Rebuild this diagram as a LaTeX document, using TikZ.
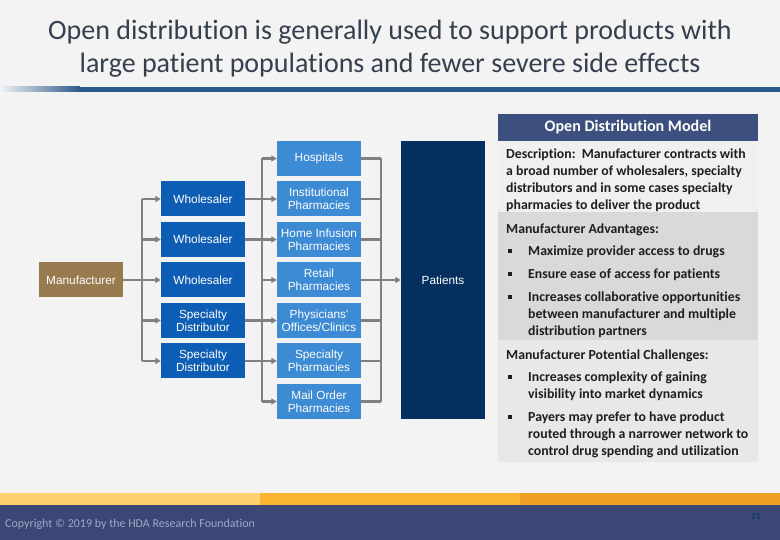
\documentclass[tikz,border=0pt]{standalone}
\usepackage{fontspec}
\setmainfont{Carlito}[Ligatures=NoCommon]
\newfontfamily\odmarial{Liberation Sans}
\usetikzlibrary{arrows.meta}
\definecolor{odmbg}{HTML}{F3F3F3}
\definecolor{odmtitle}{HTML}{353F4E}
\definecolor{odmbar}{HTML}{2B5A8C}
\definecolor{odmbrown}{HTML}{987A4F}
\definecolor{odmblueA}{HTML}{0E5DB5}
\definecolor{odmblueB}{HTML}{3D8BD4}
\definecolor{odmnavy}{HTML}{03305E}
\definecolor{odmgray}{HTML}{808080}
\definecolor{odmhead}{HTML}{3C4F7E}
\definecolor{odmink}{HTML}{1E1E1E}
\definecolor{odmfoot}{HTML}{3B4774}
\definecolor{odmfoottxt}{HTML}{A0A8C8}
\definecolor{odmbandA}{HTML}{FED36F}
\definecolor{odmbandB}{HTML}{FBB530}
\definecolor{odmbandC}{HTML}{F09F25}
\newcommand{\odmPaneA}{black!6}
\newcommand{\odmPaneB}{black!15}
\newcommand{\odmPaneC}{black!9}
\newcommand{\odmsq}{\rule{3.5pt}{3.5pt}}
\tikzset{
  odmbox/.style={minimum width=84pt, minimum height=35pt, inner sep=1pt,
                 align=center, text=white, font=\odmarial\fontsize{11.8}{12.9}\selectfont},
  odmman/.style={odmbox, fill=odmbrown},
  odmdist/.style={odmbox, fill=odmblueA},
  odmsite/.style={odmbox, fill=odmblueB},
  odmrel/.style={draw=odmgray, line width=2.3pt},
  odmarrow/.style={odmrel, -{Triangle[length=5.5pt,width=6pt]}},
  odmtxt/.style={anchor=north west, inner sep=0pt, align=left, text=odmink,
                 font=\bfseries\fontsize{13.8}{17}\selectfont},
  odmbul/.style={inner sep=0pt, text=odmink},
}

\begin{document}
\begin{tikzpicture}[x=1pt, y=-1pt]
  \useasboundingbox (0,0) rectangle (780,540);
  % background, title and bands
  \fill[odmbg] (0,0) rectangle (780,540);
  \node[font=\fontsize{28}{33}\selectfont, text=odmtitle, align=center] (title) at (390,49)
    {Open distribution is generally used to support products with\\
     large patient populations and fewer severe side effects};
  \shade[left color=odmbg, right color=odmbar] (0,87) rectangle (80,92);
  \fill[odmbar] (80,87) rectangle (780,92);
  \fill[odmfoot] (0,505) rectangle (780,540);
  \fill[odmbandA] (0,493) rectangle (260,505);
  \fill[odmbandB] (260,493) rectangle (520,505);
  \fill[odmbandC] (520,493) rectangle (780,505);
  \node[anchor=west, inner sep=0pt, text=odmfoottxt, font=\fontsize{12}{14}\selectfont] (copy) at (5,524)
    {Copyright \textcopyright{} 2019 by the HDA Research Foundation};
  \node[inner sep=0pt, text=odmnavy, font=\fontsize{9}{10}\selectfont] (page) at (756,517) {21};

  % flow chart
  \node[odmman] (man) at (81,280) {Manufacturer};
  \node[odmdist] (w1) at (203,199) {Wholesaler};
  \node[odmdist] (w2) at (203,239.5) {Wholesaler};
  \node[odmdist] (w3) at (203,280) {Wholesaler};
  \node[odmdist] (sd1) at (203,320.5) {Specialty\\Distributor};
  \node[odmdist] (sd2) at (203,361) {Specialty\\Distributor};
  \node[odmsite] (hosp) at (319,158.5) {Hospitals};
  \node[odmsite] (inst) at (319,199) {Institutional\\Pharmacies};
  \node[odmsite] (home) at (319,239.5) {Home Infusion\\Pharmacies};
  \node[odmsite] (retail) at (319,280) {Retail\\Pharmacies};
  \node[odmsite] (phys) at (319,320.5) {Physicians'\\Offices/Clinics};
  \node[odmsite] (spph) at (319,361) {Specialty\\Pharmacies};
  \node[odmsite] (mail) at (319,401.5) {Mail Order\\Pharmacies};
  \node[odmbox, fill=odmnavy, minimum height=278pt] (pat) at (443,280) {Patients};

  \coordinate (split) at (142,280);
  \coordinate (fan) at (262,280);
  \coordinate (merge) at (381,280);
  \draw[odmrel] (man.east) -- (split);
  \draw[odmrel] (split |- w1.west) -- (split |- sd2.west);
  \foreach \n in {w1,w2,w3,sd1,sd2}
    \draw[odmarrow] (split |- \n.west) -- (\n.west);
  \foreach \n in {w1,w2,sd1,sd2}
    \draw[odmrel] (\n.east) -- (fan |- \n.east);
  \draw[odmrel] (fan |- hosp.west) -- (fan |- mail.west);
  \foreach \n in {hosp,inst,home,retail,phys,spph,mail}
    \draw[odmarrow] (fan |- \n.west) -- (\n.west);
  \foreach \n in {hosp,inst,home,retail,phys,spph,mail}
    \draw[odmrel] (\n.east) -- (merge |- \n.east);
  \draw[odmrel] (merge |- hosp.east) -- (merge |- mail.east);
  \draw[odmarrow] (merge) -- (pat.west);

  % model panel
  \fill[odmhead] (498,114) rectangle (758,141);
  \fill[\odmPaneA] (498,141) rectangle (758,212);
  \fill[\odmPaneB] (498,212) rectangle (758,340);
  \fill[\odmPaneC] (498,340) rectangle (758,462);
  \node[text=white, font=\bfseries\fontsize{16.1}{18}\selectfont] (head) at (628,127.5) {Open Distribution Model};
  \node[odmtxt] (desc) at (506,149)
    {Description:\ \ Manufacturer contracts with\\
     a broad number of wholesalers, specialty\\
     distributors and in some cases specialty\\
     pharmacies to deliver the product};
  \node[odmtxt] (adv) at (506,224) {Manufacturer Advantages:};
  \node[odmbul] (ab1) at (510,251) {\odmsq};
  \node[odmtxt] (a1) at (528,246) {Maximize provider access to drugs};
  \node[odmbul] (ab2) at (510,274) {\odmsq};
  \node[odmtxt] (a2) at (528,269) {Ensure ease of access for patients};
  \node[odmbul] (ab3) at (510,297) {\odmsq};
  \node[odmtxt] (a3) at (528,292)
    {Increases collaborative opportunities\\
     between manufacturer and multiple\\
     distribution partners};
  \node[odmtxt] (chal) at (506,350) {Manufacturer Potential Challenges:};
  \node[odmbul] (cb1) at (510,377) {\odmsq};
  \node[odmtxt] (c1) at (528,372)
    {Increases complexity of gaining\\
     visibility into market dynamics};
  \node[odmbul] (cb2) at (510,417) {\odmsq};
  \node[odmtxt] (c2) at (528,412)
    {Payers may prefer to have product\\
     routed through a narrower network to\\
     control drug spending and utilization};
\end{tikzpicture}
\end{document}
